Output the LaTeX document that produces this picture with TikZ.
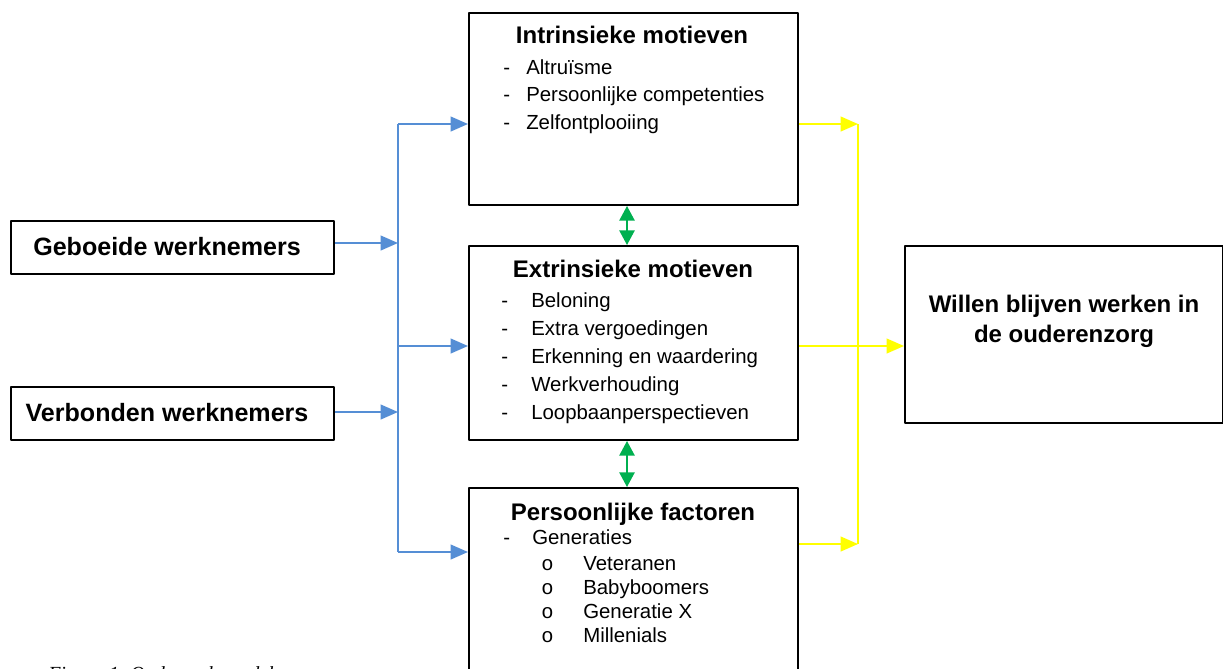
\documentclass[tikz,border=0pt]{standalone}
\usepackage{fontspec}
\setmainfont{Liberation Sans}
\setmonofont{Liberation Mono}
\newfontfamily\capfont{Liberation Serif}
\usetikzlibrary{arrows.meta}
\definecolor{pijlblauw}{RGB}{85,142,213}
\definecolor{pijlgeel}{RGB}{255,255,0}
\definecolor{pijlgroen}{RGB}{0,176,80}
\begin{document}
\begin{tikzpicture}[x=0.75pt, y=-0.75pt, line join=round,
	vak/.style={draw, line width=1.5pt, anchor=north west, inner sep=0pt},
	titel/.style={font=\fontsize{18}{20}\selectfont\bfseries, anchor=base, inner sep=0pt},
	item/.style={font=\fontsize{15.3}{18}\selectfont, anchor=base west, inner sep=0pt},
	blauw/.style={pijlblauw, line width=1.5pt, -{Triangle[length=13pt, width=11pt]}},
	geel/.style={pijlgeel, line width=1.5pt, -{Triangle[length=13pt, width=11pt]}},
	groen/.style={pijlgroen, line width=1.2pt, {Triangle[length=11pt, width=11.5pt]}-{Triangle[length=11pt, width=11.5pt]}}]
	\clip (0,0) rectangle (1223,668);
	% vakken
	\node[vak, minimum width=246.75pt, minimum height=144pt] (intr) at (468,12) {};
	\node[vak, minimum width=246.75pt, minimum height=145.5pt] (extr) at (468,245) {};
	\node[vak, minimum width=246.75pt, minimum height=187.5pt] (pers) at (468,487) {};
	\node[vak, minimum width=238.5pt, minimum height=132.75pt] (doel) at (904,245) {};
	\node[vak, minimum width=242.25pt, minimum height=39.75pt] (geb) at (10,220) {};
	\node[vak, minimum width=242.25pt, minimum height=39.75pt] (verb) at (10,386) {};
	% teksten
	\node[titel, font=\fontsize{18.8}{20}\selectfont\bfseries] (gebt) at (167,255) {Geboeide werknemers};
	\node[titel, font=\fontsize{18.8}{20}\selectfont\bfseries] (verbt) at (167,421) {Verbonden werknemers};
	\node[titel] (doelt1) at (1064,312) {Willen blijven werken in};
	\node[titel] (doelt2) at (1064,342) {de ouderenzorg};
	\node[titel] (intrt) at (632,43) {Intrinsieke motieven};
	\foreach \t [count=\i] in {Altruïsme, Persoonlijke competenties, Zelfontplooiing}{
		\node[item] (intrs\i) at (503,{74+27.6*(\i-1)}) {-};
		\node[item] (intri\i) at (526,{74+27.6*(\i-1)}) {\t};
	}
	\node[titel] (extrt) at (633,277) {Extrinsieke motieven};
	\foreach \t [count=\i] in {Beloning, Extra vergoedingen, Erkenning en waardering, Werkverhouding, Loopbaanperspectieven}{
		\node[item] (extrs\i) at (501,{307+28*(\i-1)}) {-};
		\node[item] (extri\i) at (531,{307+28*(\i-1)}) {\t};
	}
	\node[titel] (perst) at (633,520) {Persoonlijke factoren};
	\node[item] (perss) at (503,544) {-};
	\node[item] (persi) at (532,544) {Generaties};
	\foreach \t [count=\i] in {Veteranen, Babyboomers, Generatie X, Millenials}{
		\node[item, font=\fontsize{15.3}{18}\selectfont\ttfamily] (gens\i) at (541,{570+24.2*(\i-1)}) {o};
		\node[item] (geni\i) at (583,{570+24.2*(\i-1)}) {\t};
	}
	\node[item, font=\fontsize{15}{18}\selectfont\capfont\itshape] (bijschrift) at (48,680) {Figuur 1. Onderzoeksmodel};
	% pijlen
	\coordinate (bt) at (398,124);
	\coordinate (bb) at (398,552);
	\coordinate (bm) at (398,346);
	\coordinate (yt) at (858,124);
	\coordinate (yb) at (858,544);
	\coordinate (ym) at (858,346);
	\draw[pijlblauw, line width=1.5pt] (bt) -- (bb);
	\draw[blauw] (geb.east |- 0,243) -- (bt |- 0,243);
	\draw[blauw] (verb.east |- 0,412) -- (bt |- 0,412);
	\draw[blauw] (bt) -- (bt -| intr.west);
	\draw[blauw] (bm) -- (bm -| extr.west);
	\draw[blauw] (bb) -- (bb -| pers.west);
	\draw[pijlgeel, line width=1.5pt] (yt) -- (yb);
	\draw[geel] (yt -| intr.east) -- (yt);
	\draw[geel] (yb -| pers.east) -- (yb);
	\draw[geel] (ym -| extr.east) -- (ym -| doel.west);
	\draw[groen] (intr.south -| 627,0) -- (extr.north -| 627,0);
	\draw[groen] (extr.south -| 627,0) -- (pers.north -| 627,0);
\end{tikzpicture}
\end{document}
